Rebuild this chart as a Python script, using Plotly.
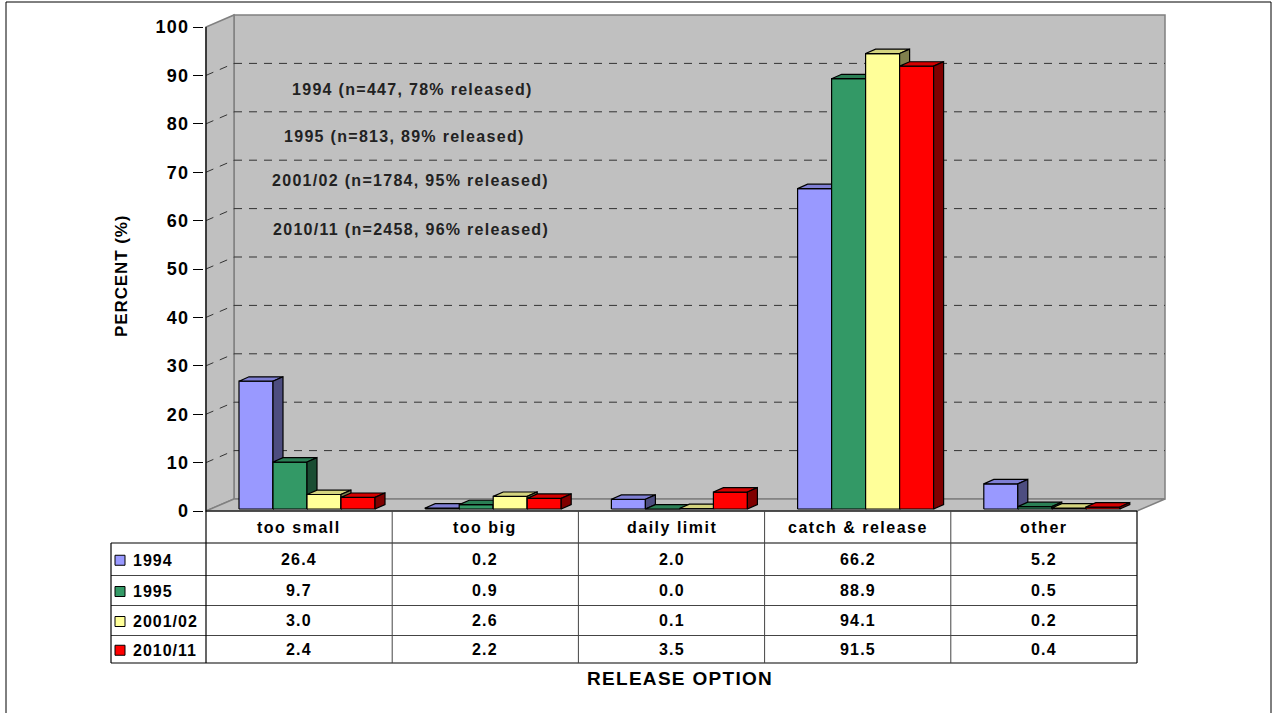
import plotly.graph_objects as go

# ---------------- data ----------------
categories = ["too small", "too big", "daily limit", "catch & release", "other"]
series_names = ["1994", "1995", "2001/02", "2010/11"]
v1994 = [26.4, 0.2, 2.0, 66.2, 5.2]
v1995 = [9.7, 0.9, 0.0, 88.9, 0.5]
v2001 = [3.0, 2.6, 0.1, 94.1, 0.2]
v2010 = [2.4, 2.2, 3.5, 91.5, 0.4]
series_values = [v1994, v1995, v2001, v2010]
notes = ["1994 (n=447, 78% released)", "1995 (n=813, 89% released)",
         "2001/02 (n=1784, 95% released)", "2010/11 (n=2458, 96% released)"]
y_ticks = [0, 10, 20, 30, 40, 50, 60, 70, 80, 90, 100]

front_colors = ["#9999FF", "#339966", "#FFFF99", "#FF0000"]
top_colors = ["#7F7FD4", "#2B7F55", "#D4D47F", "#D40000"]
side_colors = ["#4D4D80", "#1A4D33", "#80804D", "#800000"]

FONT = "Liberation Sans, Arial, sans-serif"


def ls(text, px):
    return f'<span style="letter-spacing:{px}px">{text}</span>'


# ---------------- geometry ----------------
W, H = 1273, 713
U = 186.2          # px per category unit
V = 4.84           # px per percent
DX, DY = 28 / U, 12 / V          # wall depth
FX, FY = 4.7 / U, 2.0 / V        # bar front-plane shift
BDX, BDY = 10 / U, 4.4 / V       # bar depth
BW = 34 / U                      # bar width
G0 = 28.3 / U                    # first bar offset from category left
PADPX = 2

xr = [-0.5 - PADPX / U, 4.5 + DX + PADPX / U]
yr = [-PADPX / V, 100 + DY + PADPX / V]
ml, mr = 206 - PADPX, W - (1165 + PADPX)
mt, mb = 15 - PADPX, H - (511 + PADPX)
PW, PH = W - ml - mr, H - mt - mb


def px_x(px):
    return (px - ml) / PW


def px_y(py):
    return (H - mb - py) / PH


def d_x(xd):
    return (xd - xr[0]) / (xr[1] - xr[0])


fig = go.Figure()

# ---------------- bars (3D faces) ----------------
for s, vals in enumerate(series_values):
    fx, fy, tx, ty, sx, sy = [], [], [], [], [], []
    for i, v in enumerate(vals):
        xl = i - 0.5 + G0 + s * BW + FX
        xr_ = xl + BW
        fx += [xl, xr_, xr_, xl, xl, None]
        fy += [FY, FY, FY + v, FY + v, FY, None]
        tx += [xl, xr_, xr_ + BDX, xl + BDX, xl, None]
        ty += [FY + v, FY + v, FY + v + BDY, FY + v + BDY, FY + v, None]
        sx += [xr_, xr_ + BDX, xr_ + BDX, xr_, xr_, None]
        sy += [FY, FY + BDY, FY + v + BDY, FY + v, FY, None]
    for xs, ys, col in [(fx, fy, front_colors[s]), (tx, ty, top_colors[s]),
                        (sx, sy, side_colors[s])]:
        fig.add_trace(go.Scatter(x=xs, y=ys, mode="lines", fill="toself",
                                 fillcolor=col, line=dict(color="black", width=1.2),
                                 hoverinfo="skip", showlegend=False,
                                 name=series_names[s]))

shapes = []
WALL = "#C0C0C0"
EDGE = "#808080"
# back wall
shapes.append(dict(type="rect", xref="x", yref="y", x0=-0.5 + DX, x1=4.5 + DX,
                   y0=DY, y1=100 + DY, fillcolor=WALL, line=dict(color=EDGE, width=1.5),
                   layer="below"))
# side wall
shapes.append(dict(type="path", xref="x", yref="y",
                   path=f"M {-0.5},0 L {-0.5 + DX},{DY} L {-0.5 + DX},{100 + DY} L {-0.5},100 Z",
                   fillcolor=WALL, line=dict(color=EDGE, width=1.5), layer="below"))
# floor
shapes.append(dict(type="path", xref="x", yref="y",
                   path=f"M {-0.5},0 L 4.5,0 L {4.5 + DX},{DY} L {-0.5 + DX},{DY} Z",
                   fillcolor=WALL, line=dict(color=EDGE, width=1.5), layer="below"))
# gridlines
for t in y_ticks[1:-1]:
    shapes.append(dict(type="line", xref="x", yref="y", x0=-0.5 + DX, x1=4.5 + DX,
                       y0=t + DY, y1=t + DY, line=dict(color="#333333", width=1, dash="8px,7px"),
                       layer="below"))
    shapes.append(dict(type="line", xref="x", yref="y", x0=-0.5, x1=-0.5 + DX,
                       y0=t, y1=t + DY, line=dict(color="#333333", width=1, dash="8px,7px"),
                       layer="below"))
# front y-axis line
shapes.append(dict(type="line", xref="x", yref="y", x0=-0.5, x1=-0.5, y0=0, y1=100,
                   line=dict(color="black", width=1.2)))

# ---------------- data table ----------------
table_left = 111
header_top, header_bot = 511, 543
row_edges = [543, 575.5, 605.5, 635.5, 663]
col_edges = [d_x(i - 0.5) for i in range(len(categories) + 1)]
BLACK = dict(color="black", width=1.2)
INNER = dict(color="#444444", width=1)

shapes.append(dict(type="line", xref="paper", yref="paper", x0=col_edges[0], x1=col_edges[-1],
                   y0=px_y(header_top), y1=px_y(header_top), line=BLACK))
for k, ry in enumerate(row_edges):
    shapes.append(dict(type="line", xref="paper", yref="paper", x0=px_x(table_left),
                       x1=col_edges[-1], y0=px_y(ry), y1=px_y(ry),
                       line=BLACK if k in (0, len(row_edges) - 1) else INNER))
for k, cx in enumerate(col_edges):
    shapes.append(dict(type="line", xref="paper", yref="paper", x0=cx, x1=cx,
                       y0=px_y(header_top), y1=px_y(row_edges[-1]),
                       line=BLACK if k in (0, len(col_edges) - 1) else INNER))
shapes.append(dict(type="line", xref="paper", yref="paper", x0=px_x(table_left),
                   x1=px_x(table_left), y0=px_y(row_edges[0]), y1=px_y(row_edges[-1]),
                   line=BLACK))

annotations = []
TFONT = dict(family=FONT, size=16, color="black", weight="bold")
for i, c in enumerate(categories):
    annotations.append(dict(x=d_x(i), y=px_y(527), xref="paper", yref="paper",
                            text=ls(c, 1.5), showarrow=False, font=TFONT,
                            xanchor="center", yanchor="middle"))
for s, vals in enumerate(series_values):
    cy = (row_edges[s] + row_edges[s + 1]) / 2
    shapes.append(dict(type="rect", xref="paper", yref="paper", x0=px_x(115), x1=px_x(125),
                       y0=px_y(cy - 4), y1=px_y(cy + 6), fillcolor=front_colors[s],
                       line=dict(color="black", width=1)))
    annotations.append(dict(x=px_x(131), y=px_y(cy + 1), xref="paper", yref="paper",
                            text=ls(series_names[s], 1.0), showarrow=False, font=TFONT,
                            xanchor="left", yanchor="middle"))
    for i, v in enumerate(vals):
        annotations.append(dict(x=d_x(i), y=px_y(cy), xref="paper", yref="paper",
                                text=ls(f"{v:.1f}", 1.2), showarrow=False, font=TFONT,
                                xanchor="center", yanchor="middle"))

# notes on the wall
note_pos = [(412, 89), (404, 136), (410, 181), (411, 229)]
for n, (nx, ny) in zip(notes, note_pos):
    annotations.append(dict(x=px_x(nx), y=px_y(ny), xref="paper", yref="paper",
                            text=ls(n, 1.3), showarrow=False,
                            font=dict(family=FONT, size=16, color="#222222", weight="bold"),
                            xanchor="center", yanchor="middle"))

# axis titles
annotations.append(dict(x=px_x(121), y=px_y(276), xref="paper", yref="paper",
                        text=ls("PERCENT (%)", 0.9), textangle=-90, showarrow=False,
                        font=dict(family=FONT, size=17, color="black", weight="bold"),
                        xanchor="center", yanchor="middle"))
annotations.append(dict(x=px_x(680), y=px_y(678), xref="paper", yref="paper",
                        text=ls("RELEASE OPTION", 1.3), showarrow=False,
                        font=dict(family=FONT, size=19, color="black", weight="bold"),
                        xanchor="center", yanchor="middle"))

# outer border
shapes.append(dict(type="rect", xref="paper", yref="paper", x0=px_x(6), x1=px_x(1271),
                   y0=px_y(720), y1=px_y(2), line=dict(color="black", width=1),
                   fillcolor="rgba(0,0,0,0)", layer="below"))

fig.update_layout(
    width=W, height=H, autosize=False,
    margin=dict(l=ml, r=mr, t=mt, b=mb, pad=0),
    paper_bgcolor="white", plot_bgcolor="white",
    showlegend=False,
    shapes=shapes, annotations=annotations,
    xaxis=dict(range=xr, visible=False, fixedrange=True),
    yaxis=dict(range=yr, tickvals=y_ticks, ticktext=[ls(str(t), 1.3) for t in y_ticks],
               ticks="outside", ticklen=10, tickcolor="black",
               tickwidth=1, showgrid=False, zeroline=False, showline=False,
               tickfont=dict(family=FONT, size=18, color="black", weight="bold"),
               fixedrange=True),
)

fig.write_html("out.html", config={"displayModeBar": False},
               post_script="document.body.style.margin='0px';")
